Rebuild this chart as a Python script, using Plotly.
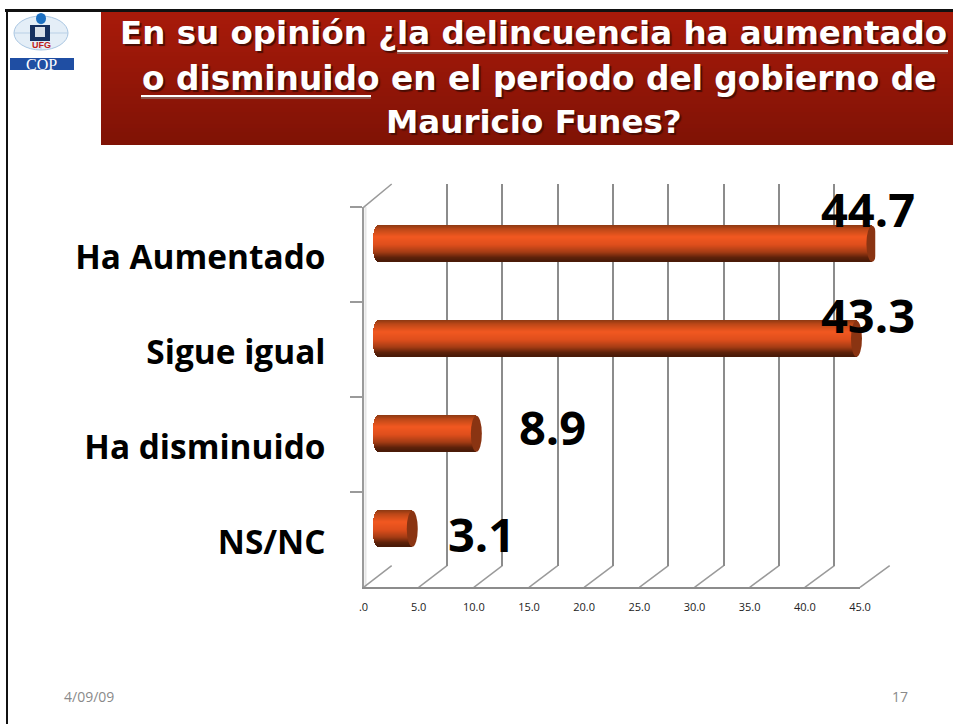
import math
import plotly.graph_objects as go

W, H = 953, 724

# ---- data ----
categories = ["Ha Aumentado", "Sigue igual", "Ha disminuido", "NS/NC"]
values = [44.7, 43.3, 8.9, 3.1]
label_text = ["44.7", "43.3", "8.9", "3.1"]
x_ticks = [0, 5, 10, 15, 20, 25, 30, 35, 40, 45]
x_tick_text = [".0", "5.0", "10.0", "15.0", "20.0", "25.0", "30.0", "35.0", "40.0", "45.0"]
title_lines = ["En su opinión ¿la delincuencia ha aumentado",
               "o disminuido en el periodo del gobierno de",
               "Mauricio Funes?"]
date_text = "4/09/09"
page_text = "17"

# ---- label placement (axis units / category position) ----
label_x = [44.34, 44.34, 15.75, 9.4]
label_y = [-0.365, 0.745, 1.925, 3.05]


def px(x):
    return x / W


def py(y):
    return 1 - y / H


def xdom(a, b):
    return [px(a), px(b)]


def ydom(top, bottom):
    return [py(bottom), py(top)]


fig = go.Figure()

BACK_X = (391.7, 889.7)
BACK_Y = (184, 565.7)
FRONT_X = (363.5, 860.0)
FRONT_Y = (207.3, 587.3)
UNIT = 11.05
MID_X = (378.0 - UNIT, 378.0 + 45 * UNIT)
MID_Y = (196.3, 576.3)
LABEL_SHIFT = 2.5

rev = [3.5, -0.5]

fig.add_trace(go.Scatter(x=[0], y=[0], xaxis="x", yaxis="y", mode="markers",
                         marker=dict(opacity=0), hoverinfo="skip", showlegend=False))
fig.add_trace(go.Scatter(x=[0], y=[categories[0]], xaxis="x2", yaxis="y2", mode="markers",
                         marker=dict(opacity=0), hoverinfo="skip", showlegend=False))
fig.add_trace(go.Scatter(x=[0], y=[categories[0]], xaxis="x2", yaxis="y4", mode="markers",
                         marker=dict(opacity=0), hoverinfo="skip", showlegend=False))

BAND = 36 / 95
N = 36
stops = [(0.0, (140, 56, 18)), (0.12, (190, 72, 24)), (0.33, (242, 88, 32)),
         (0.55, (222, 78, 28)), (0.75, (165, 60, 20)), (0.9, (95, 34, 10)), (1.0, (72, 26, 8))]


def grad(t):
    for (a, ca), (b, cb) in zip(stops, stops[1:]):
        if t <= b:
            f = (t - a) / (b - a)
            return "rgb(%d,%d,%d)" % tuple(round(p + (q - p) * f) for p, q in zip(ca, cb))
    return "rgb(72,26,8)"


CAP_A = 5.5 / UNIT
for i in range(N):
    t = (i + 0.5) / N
    s = math.sqrt(max(0.0, 1 - (2 * t - 1) ** 2))
    fig.add_trace(go.Bar(
        orientation="h", xaxis="x3", yaxis="y3",
        y=categories, x=[v + CAP_A * s for v in values], base=[-CAP_A * s] * len(values),
        width=BAND / N * 1.1, offset=-BAND / 2 + i * BAND / N,
        marker=dict(color=grad(t), line=dict(width=0)),
        hoverinfo="skip", showlegend=False))

shapes = []

top, bottom = (168, 26, 10), (126, 18, 5)
for i in range(0, 133, 4):
    f = i / 133
    c = "rgb(%d,%d,%d)" % tuple(round(a + (b - a) * f) for a, b in zip(top, bottom))
    shapes.append(dict(type="rect", xref="paper", yref="paper", x0=px(101), x1=1,
                       y0=py(12 + i), y1=py(min(145, 12 + i + 4)), fillcolor=c, line=dict(width=0), layer="below"))

shapes.append(dict(type="rect", xref="paper", yref="paper", x0=px(5), x1=1, y0=py(12), y1=py(9),
                   fillcolor="#111111", line=dict(width=0)))
shapes.append(dict(type="rect", xref="paper", yref="paper", x0=px(6), x1=px(8), y0=0, y1=py(9),
                   fillcolor="#111111", line=dict(width=0)))

for x0, x1, y in [(397, 948, 51), (141, 371, 96)]:
    shapes.append(dict(type="line", xref="paper", yref="paper", x0=px(x0), x1=px(x1), y0=py(y + 2), y1=py(y + 2),
                       line=dict(color="#8a6a64", width=1.5)))
    shapes.append(dict(type="line", xref="paper", yref="paper", x0=px(x0), x1=px(x1), y0=py(y), y1=py(y),
                       line=dict(color="#ffffff", width=2)))

shapes += [
    dict(type="circle", xref="paper", yref="paper", x0=px(14), x1=px(68), y0=py(50), y1=py(16),
         fillcolor="#e4eef7", line=dict(color="#a9c6e2", width=1)),
    dict(type="line", xref="paper", yref="paper", x0=px(41), x1=px(41), y0=py(50), y1=py(16),
         line=dict(color="#b9d0e6", width=1)),
    dict(type="line", xref="paper", yref="paper", x0=px(14), x1=px(68), y0=py(33), y1=py(33),
         line=dict(color="#b9d0e6", width=1)),
    dict(type="circle", xref="paper", yref="paper", x0=px(36), x1=px(46), y0=py(24), y1=py(13),
         fillcolor="#1c6fc0", line=dict(width=0)),
    dict(type="rect", xref="paper", yref="paper", x0=px(30), x1=px(50), y0=py(41), y1=py(25),
         fillcolor="#16305f", line=dict(width=0)),
    dict(type="rect", xref="paper", yref="paper", x0=px(35), x1=px(45), y0=py(37), y1=py(27),
         fillcolor="#d8dfe8", line=dict(width=0)),
    dict(type="rect", xref="paper", yref="paper", x0=px(10), x1=px(74), y0=py(70), y1=py(58),
         fillcolor="#1f4ea3", line=dict(width=0)),
]

GRAY = "#9a9a9a"
shapes.append(dict(type="rect", xref="paper", yref="paper", x0=px(364.5), x1=px(366.5), y0=py(587), y1=py(207),
                   fillcolor="#e6e6e6", line=dict(width=0), layer="below"))
shapes.append(dict(type="line", xref="paper", yref="paper", x0=px(FRONT_X[0]), y0=py(FRONT_Y[0]),
                   x1=px(BACK_X[0]), y1=py(BACK_Y[0]), line=dict(color=GRAY, width=1.5)))
for v in x_ticks:
    fx = FRONT_X[0] + (FRONT_X[1] - FRONT_X[0]) * v / 45
    bx = BACK_X[0] + (BACK_X[1] - BACK_X[0]) * v / 45
    shapes.append(dict(type="line", xref="paper", yref="paper", x0=px(fx), y0=py(FRONT_Y[1]),
                       x1=px(bx), y1=py(BACK_Y[1]), line=dict(color=GRAY, width=1.5), layer="below"))

shapes.append(dict(type="line", xref="x", yref="y", x0=15, x1=15, y0=0, y1=1,
                   line=dict(color="#ffffff", width=2.5), layer="below"))
shapes.append(dict(type="line", xref="x", yref="y", x0=15, x1=15, y0=0, y1=1,
                   line=dict(color="#bdbdbd", width=1), layer="below"))

for v, cat in zip(values, range(len(values))):
    shapes.append(dict(type="circle", xref="x3", yref="y3", x0=v - CAP_A, x1=v + CAP_A,
                       y0=cat - BAND / 2, y1=cat + BAND / 2,
                       fillcolor="#8a3412", line=dict(width=0), layer="above"))

annotations = []


def text(s, x, y, size, color="#000000", bold=False, family="Open Sans", anchor="center", shadow=None):
    font = dict(size=size, color=color, family=family, weight="bold" if bold else "normal")
    if shadow:
        font["shadow"] = shadow
    annotations.append(dict(text=s, x=px(x), y=py(y), xref="paper", yref="paper", showarrow=False,
                            xanchor=anchor, yanchor="middle", font=font, borderpad=0))


TITLE_SHADOW = "2px 2px 1px #4a0d04"
text(title_lines[0], 533, 33, 32.5, "#ffffff", True, "DejaVu Sans", shadow=TITLE_SHADOW)
text(title_lines[1], 539.5, 79, 32.8, "#ffffff", True, "DejaVu Sans", shadow=TITLE_SHADOW)
text(title_lines[2], 534, 122, 32.5, "#ffffff", True, "DejaVu Sans", shadow=TITLE_SHADOW)
text(date_text, 63, 696, 14, "#8a8a8a", anchor="left")
text(page_text, 891, 696, 14, "#8a8a8a", anchor="left")
text("UFG", 41, 45, 9, "#c0201a", True, "Liberation Sans")
text("COP", 41, 65, 16, "#ffffff", False, "Liberation Serif")

for s, lx, ly in zip(label_text, label_x, label_y):
    annotations.append(dict(text=s, x=lx, y=ly, xref="x3", yref="y3", showarrow=False,
                            xanchor="center", yanchor="middle",
                            font=dict(size=47, color="#000000", family="Open Sans", weight="bold")))

fig.update_layout(
    width=W, height=H, autosize=False,
    margin=dict(l=0, r=0, t=0, b=0, pad=0),
    paper_bgcolor="#ffffff", plot_bgcolor="rgba(0,0,0,0)",
    barmode="overlay", bargap=0,
    showlegend=False,
    shapes=shapes, annotations=annotations,
    xaxis=dict(automargin=False, domain=xdom(*BACK_X), range=[0, 45], anchor="y", tickvals=x_ticks, showticklabels=False,
               ticks="", showgrid=True, gridcolor="#8c8c8c", gridwidth=2, zeroline=False, showline=False),
    yaxis=dict(automargin=False, domain=ydom(*BACK_Y), range=[0, 1], anchor="x", visible=False),
    xaxis2=dict(automargin=False, domain=xdom(*FRONT_X), range=[0, 45], anchor="y2", tickmode="array", tickvals=x_ticks,
                ticktext=x_tick_text, ticks="", showgrid=False, zeroline=False, showline=True,
                linecolor="#8c8c8c", linewidth=2, ticklabelstandoff=8,
                tickfont=dict(size=11, family="Open Sans", color="#222222")),
    yaxis2=dict(automargin=False, domain=ydom(*FRONT_Y), range=rev, anchor="x2", type="category", categoryorder="array",
                categoryarray=categories, tickson="boundaries", ticks="outside", ticklen=12,
                tickcolor="#9a9a9a", tickwidth=1.5, showgrid=False, zeroline=False, showline=True,
                linecolor="#9a9a9a", linewidth=2, showticklabels=False),
    # the category names sit slightly lower than the tick bands
    yaxis4=dict(automargin=False, domain=ydom(FRONT_Y[0] + LABEL_SHIFT, FRONT_Y[1] + LABEL_SHIFT), range=rev,
                anchor="x2", type="category", categoryorder="array", categoryarray=categories,
                ticks="", showgrid=False, zeroline=False, showline=False, ticklabelstandoff=37,
                tickfont=dict(size=33.4, family="Open Sans", color="#000000", weight="bold")),
    xaxis3=dict(automargin=False, domain=xdom(*MID_X), range=[-1, 45], anchor="y3", visible=False),
    yaxis3=dict(automargin=False, domain=ydom(*MID_Y), range=rev, anchor="x3", type="category", categoryorder="array",
                categoryarray=categories, visible=False),
)

fig.write_html(
    "out.html",
    default_width="953px",
    default_height="724px",
    config={"displayModeBar": False},
    post_script="document.documentElement.style.margin='0';document.body.style.margin='0';document.body.style.overflow='hidden';",
)
